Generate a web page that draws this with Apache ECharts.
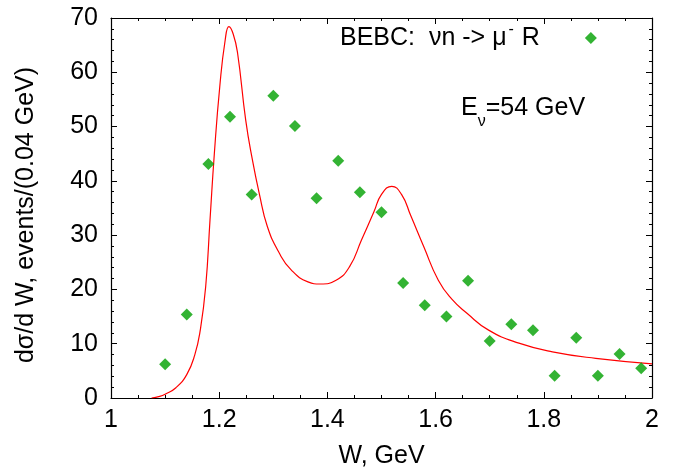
<!DOCTYPE html>
<html>
<head>
<meta charset="utf-8">
<script src="https://cdn.jsdelivr.net/npm/echarts@6/dist/echarts.min.js"></script>
<style>html,body{margin:0;padding:0;background:#fff}#c{width:684px;height:474px}</style>
</head>
<body>
<div id="c"></div>
<script>
// BEBC data points
var dataW = [1.10, 1.14, 1.18, 1.22, 1.26, 1.30, 1.34, 1.38, 1.42, 1.46, 1.50, 1.54, 1.58, 1.62, 1.66, 1.70, 1.74, 1.78, 1.82, 1.86, 1.90, 1.94, 1.98];
var dataEvents = [6.2, 15.4, 43.1, 51.8, 37.5, 55.7, 50.1, 36.8, 43.7, 37.9, 34.2, 21.2, 17.1, 15.0, 21.6, 10.5, 13.6, 12.5, 4.1, 11.1, 4.1, 8.1, 5.5];
// Theory curve
var curveW = [1.075, 1.09, 1.10, 1.12, 1.14, 1.155, 1.165, 1.175, 1.183, 1.191, 1.201, 1.211, 1.218, 1.226, 1.234, 1.249, 1.2615, 1.274, 1.289, 1.311, 1.333, 1.364, 1.387, 1.416, 1.441, 1.463, 1.486, 1.500, 1.519, 1.537, 1.554, 1.578, 1.605, 1.630, 1.658, 1.698, 1.754, 1.816, 1.896, 2.0];
var curveY = [0, 0.3, 0.7, 1.9, 4.3, 8.0, 12.5, 20.5, 32.8, 45.0, 57.3, 65.9, 68.4, 67.0, 63.5, 51.2, 43.8, 37.7, 31.6, 26.7, 23.6, 21.4, 21.0, 21.7, 24.2, 29.1, 34.3, 37.5, 39.0, 37.5, 33.6, 27.9, 21.7, 18.2, 15.6, 12.5, 10.1, 8.5, 7.3, 6.3];
var xTicks = [1, 1.2, 1.4, 1.6, 1.8, 2];
var yTicks = [0, 10, 20, 30, 40, 50, 60, 70];

var FONT = 'Liberation Sans';
var FS = 25;
var chart = echarts.init(document.getElementById('c'), null, {renderer: 'canvas'});

function zip(a, b) { return a.map(function (v, i) { return [v, b[i]]; }); }

function axisCommon(pos, showLabel, isX) {
  return {
    type: 'value',
    position: pos,
    min: isX ? xTicks[0] : yTicks[0],
    max: isX ? xTicks[xTicks.length - 1] : yTicks[yTicks.length - 1],
    interval: isX ? 0.2 : 10,
    axisLine: {show: true, onZero: false, lineStyle: {color: '#000', width: 1.2}},
    axisTick: {show: true, inside: true, length: 6, lineStyle: {color: '#000', width: 1}},
    minorTick: {show: true, splitNumber: isX ? 4 : 5, length: 3, lineStyle: {color: '#000', width: 1}},
    splitLine: {show: false},
    axisLabel: {
      show: showLabel, color: '#000', fontFamily: FONT, fontSize: FS, margin: isX ? 10 : 13,
      formatter: function (v) { return String(Math.round(v * 10) / 10); }
    }
  };
}

var xBottom = axisCommon('bottom', true, true);
xBottom.name = 'W, GeV';
xBottom.nameLocation = 'middle';
xBottom.nameGap = 46;
xBottom.nameTextStyle = {color: '#000', fontFamily: FONT, fontSize: FS};
var xTop = axisCommon('top', false, true);
var yLeft = axisCommon('left', true, false);
yLeft.name = 'd\u03c3/d W, events/(0.04 GeV)';
yLeft.nameLocation = 'middle';
yLeft.nameRotate = 90;
yLeft.nameGap = 72;
yLeft.nameTextStyle = {color: '#000', fontFamily: FONT, fontSize: FS, padding: [0, 14, 0, 0]};
var yRight = axisCommon('right', false, false);

var option = {
  backgroundColor: '#fff',
  animation: false,
  grid: {left: 111, right: 32, top: 18, bottom: 76, containLabel: false},
  xAxis: [xBottom, xTop],
  yAxis: [yLeft, yRight],
  legend: {
    show: true,
    left: 335, top: 17,
    align: 'right',
    itemWidth: 12, itemHeight: 12,
    data: [{name: 'BEBC', icon: 'diamond'}],
    formatter: function () { return '{n|BEBC:  \u03bdn -> \u03bc}{p|-}{n| R}'; },
    textStyle: {
      color: '#000', fontFamily: FONT, fontSize: FS, padding: [0, 40, 0, 0],
      rich: {
        n: {fontFamily: FONT, fontSize: FS, lineHeight: 32, color: '#000'},
        p: {fontFamily: FONT, fontSize: 16, lineHeight: 16, verticalAlign: 'top', color: '#000', padding: [0, 1, 0, 2]}
      }
    }
  },
  graphic: [{
    type: 'text',
    x: 461, y: 87,
    style: {
      text: '{e|E}{s|\u03bd}{e|=54 GeV}',
      align: 'left', verticalAlign: 'top',
      rich: {
        e: {fontFamily: FONT, fontSize: FS, lineHeight: 43, fill: '#000'},
        s: {fontFamily: FONT, fontSize: 16, lineHeight: 16, verticalAlign: 'bottom', fill: '#000'}
      }
    }
  }],
  series: [
    {
      name: 'Theory', type: 'line', xAxisIndex: 0, yAxisIndex: 0,
      data: zip(curveW, curveY),
      smooth: 0.5,
      showSymbol: false, symbol: 'none',
      lineStyle: {color: '#ff0000', width: 1.2},
      z: 2
    },
    {
      name: 'BEBC', type: 'scatter', xAxisIndex: 0, yAxisIndex: 0,
      data: zip(dataW, dataEvents),
      symbol: 'diamond', symbolSize: 12,
      itemStyle: {color: '#00a000'},
      z: 3
    }
  ]
};
chart.setOption(option);
</script>
</body>
</html>
